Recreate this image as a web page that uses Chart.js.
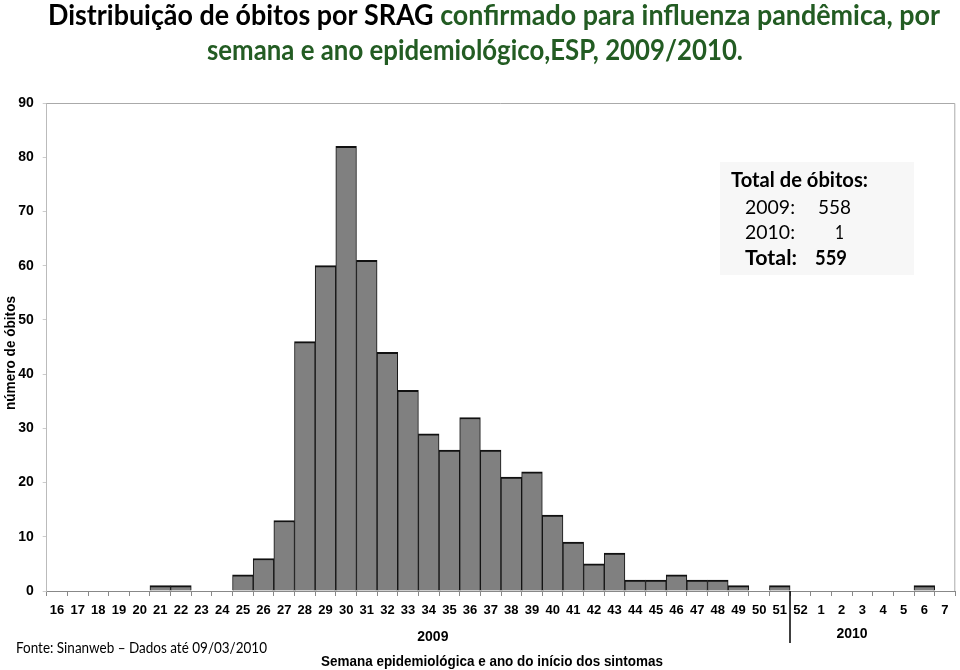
<!DOCTYPE html>
<html><head><meta charset="utf-8">
<script src="https://cdn.jsdelivr.net/npm/chart.js@4"></script>
<style>
html,body{margin:0;padding:0;background:#fff;}
#wrap{position:relative;width:960px;height:670px;}
</style></head><body>
<div id="wrap"><canvas id="c" width="960" height="670"></canvas></div>
<script>
const weeks = ['16','17','18','19','20','21','22','23','24','25','26','27','28','29','30','31','32','33','34','35','36','37','38','39','40','41','42','43','44','45','46','47','48','49','50','51','52','1','2','3','4','5','6','7'];
const deaths = [0,0,0,0,0,1,1,0,0,3,6,13,46,60,82,61,44,37,29,26,32,26,21,22,14,9,5,7,2,2,3,2,2,1,0,1,0,0,0,0,0,0,1,0];
const yTicks = [0,10,20,30,40,50,60,70,80,90];
const yearLabels = ['2009','2010'];
const totals = [['2009:','558'],['2010:','1'],['Total:','559']];

const ARIAL = '"Liberation Sans", Arial, sans-serif';
const CAL = 'Lato, "Open Sans", sans-serif';

function fitText(ctx, runs, x, y, w, font, align) {
  ctx.save();
  ctx.font = font;
  let total = 0;
  runs.forEach(r => total += ctx.measureText(r[0]).width);
  const s = w / total;
  let x0 = x;
  if (align === 'center') x0 = x - w / 2;
  if (align === 'right') x0 = x - w;
  ctx.translate(x0, y);
  ctx.scale(s, 1);
  ctx.textAlign = 'left';
  let off = 0;
  runs.forEach(r => { ctx.fillStyle = r[1]; ctx.fillText(r[0], off, 0); off += ctx.measureText(r[0]).width; });
  ctx.restore();
}

const decor = {
  id: 'decor',
  afterDraw(chart) {
    const ctx = chart.ctx, a = chart.chartArea, xs = chart.scales.x;
    ctx.save();
    // top & right border
    ctx.strokeStyle = '#aaa'; ctx.lineWidth = 1;
    ctx.beginPath();
    ctx.moveTo(a.left, a.top + 0.5); ctx.lineTo(a.right - 0.5, a.top + 0.5); ctx.lineTo(a.right - 0.5, a.bottom);
    ctx.stroke();
    // year separator
    const sx = Math.round((xs.getPixelForValue(35) + xs.getPixelForValue(36)) / 2);
    ctx.strokeStyle = '#000'; ctx.lineWidth = 1.5;
    ctx.beginPath(); ctx.moveTo(sx, a.bottom); ctx.lineTo(sx, 643); ctx.stroke();
    // year labels
    ctx.fillStyle = '#000'; ctx.font = 'bold 14px ' + ARIAL; ctx.textAlign = 'center'; ctx.textBaseline = 'middle';
    ctx.fillText(yearLabels[0], xs.getPixelForValue(18.2), 637);
    ctx.fillText(yearLabels[1], xs.getPixelForValue(38.5), 634);
    ctx.textBaseline = 'alphabetic';
    // x title
    fitText(ctx, [['Semana epidemiológica e ano do início dos sintomas', '#000']], 492, 666, 342, 'bold 15px ' + ARIAL, 'center');
    // y title
    ctx.save();
    ctx.translate(15, 353); ctx.rotate(-Math.PI / 2);
    fitText(ctx, [['número de óbitos', '#000']], 0, 0, 114, 'bold 15px ' + ARIAL, 'center');
    ctx.restore();
    // main title
    const G = '#235c23';
    fitText(ctx, [['Distribuição de óbitos por SRAG ', '#000'], ['confirmado para influenza pandêmica, por', G]], 48, 25, 892, 'bold 28px ' + CAL, 'left');
    fitText(ctx, [['semana e ano epidemiológico,ESP, 2009/2010.', G]], 207, 60, 536, 'bold 28px ' + CAL, 'left');
    // footer
    fitText(ctx, [['Fonte: Sinanweb – Dados até 09/03/2010', '#000']], 16, 653, 251, '16px ' + CAL, 'left');
    // totals box
    ctx.fillStyle = '#f7f7f7';
    ctx.fillRect(720, 162, 194, 113);
    fitText(ctx, [['Total de óbitos:', '#000']], 731, 187, 137, 'bold 20px ' + CAL, 'left');
    const bases = [214, 239, 265];
    const rights = [851, 844, 847];
    const lw = [50, 50, 52];
    const vw = [33, 9, 32];
    totals.forEach((t, i) => {
      const f = (i === 2 ? 'bold ' : '') + '20px ' + CAL;
      fitText(ctx, [[t[0], '#000']], 745, bases[i], lw[i], f, 'left');
      fitText(ctx, [[t[1], '#000']], rights[i], bases[i], vw[i], f, 'right');
    });
    ctx.restore();
  }
};

new Chart(document.getElementById('c'), {
  type: 'bar',
  data: {
    labels: weeks,
    datasets: [{
      data: deaths,
      backgroundColor: '#808080',
      borderColor: '#111',
      borderWidth: {top: 2, left: 1, right: 1, bottom: 0},
      categoryPercentage: 1,
      barPercentage: 1
    }]
  },
  options: {
    responsive: false,
    animation: false,
    layout: {padding: {top: 103, right: 4.7, left: 0, bottom: 0}},
    plugins: {legend: {display: false}, tooltip: {enabled: false}, title: {display: false}},
    scales: {
      x: {
        type: 'category',
        offset: true,
        grid: {offset: true, drawOnChartArea: false, drawTicks: true, tickLength: 5, color: '#888'},
        border: {color: '#888', width: 1},
        ticks: {color: '#000', font: {family: ARIAL, size: 13, weight: 'bold'}, maxRotation: 0, autoSkip: false, padding: 7},
        afterFit: s => { s.height = 79; }
      },
      y: {
        min: 0, max: 90,
        afterBuildTicks: s => { s.ticks = yTicks.map(v => ({value: v})); },
        grid: {drawOnChartArea: false, drawTicks: true, tickLength: 4, color: '#ccc'},
        border: {color: '#bbb', width: 1},
        ticks: {color: '#000', font: {family: ARIAL, size: 14, weight: 'bold'}, padding: 9},
        afterFit: s => { s.width = 46.7; }
      }
    }
  },
  plugins: [decor]
});
</script>
</body></html>
